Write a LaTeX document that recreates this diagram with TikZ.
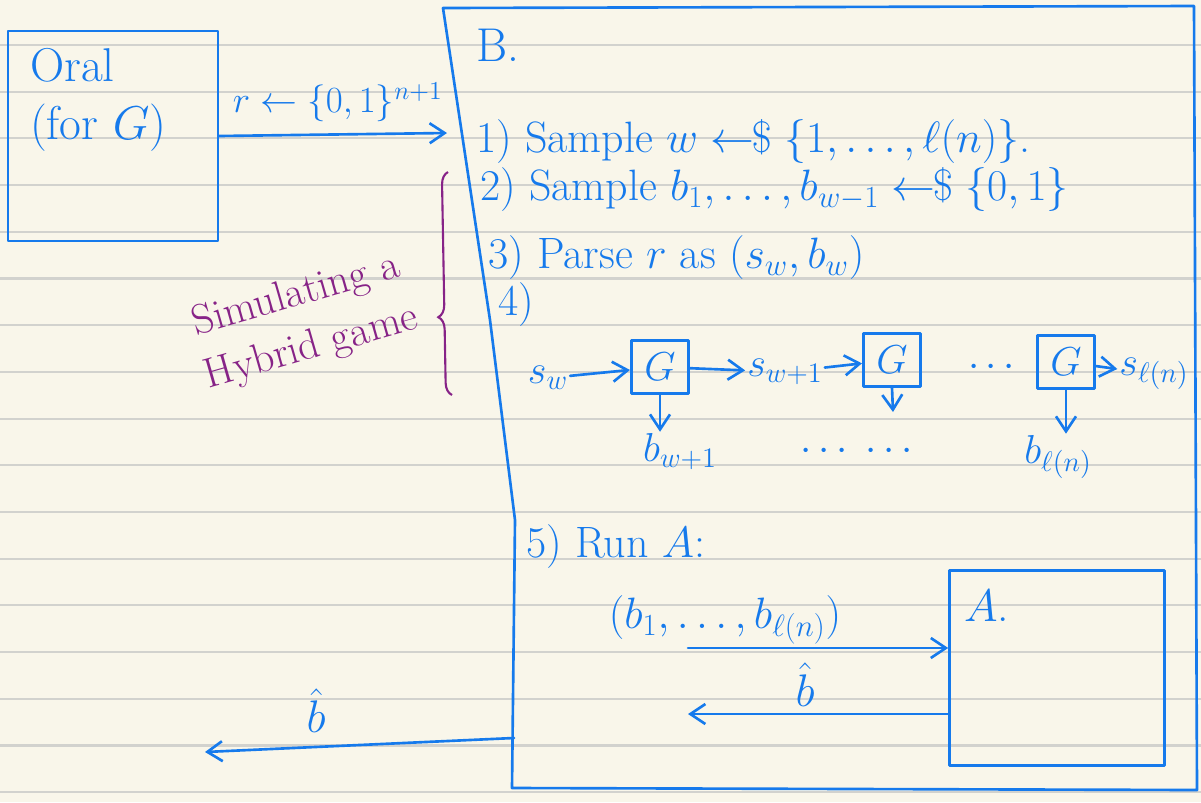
\RequirePackage{fix-cm}
\documentclass[tikz,border=0pt]{standalone}
\usepackage{amsmath}
\usetikzlibrary{arrows.meta,positioning,decorations.pathreplacing,calc}
\definecolor{ink}{RGB}{22,122,236}
\definecolor{plum}{RGB}{135,35,135}
\definecolor{paper}{RGB}{249,246,234}
\definecolor{rule}{RGB}{210,210,206}
\newcommand{\sampto}{\mathrel{\leftarrow\!\!\$}}

\begin{document}
\begin{tikzpicture}[x=0.02cm,y=-0.02cm,
  font=\fontsize{23}{29}\selectfont,
  inkline/.style={draw=ink,line width=1.5pt,line cap=round,line join=round},
  box/.style={inkline,inner sep=0pt},
  gbox/.style={box,text=ink,minimum width=1.15cm,minimum height=1.05cm},
  flow/.style={inkline,-{Straight Barb[length=3mm,width=4mm]}},
  hand/.style={text=ink,inner sep=1pt,anchor=west},
  stepline/.style={hand,font=\fontsize{25}{30}\selectfont},
  ruling/.style={draw=rule,line width=1.2pt}]
\fill[paper] (0,0) rectangle (1201,802);
\useasboundingbox (0,0) rectangle (1201,802);
\foreach \k in {0,...,16}
  \draw[ruling] (0,{45+46.7*\k}) -- (1201,{45+46.7*\k});

\node[box,minimum width=4.2cm,minimum height=4.2cm] (oracle) at (113,136) {};
\node[hand,anchor=north west,align=left,font=\fontsize{27}{33}\selectfont] (oraclename) at (28,46) {Oral\\(for $G$)};
\coordinate (rin) at (447,133);
\draw[flow] (oracle.east) -- (rin) node[pos=0.52,above=3pt,text=ink,font=\fontsize{21}{25}\selectfont] (rlabel) {$r\leftarrow\{0,1\}^{n+1}$};

\coordinate (btl) at (443,8);
\coordinate (btr) at (1194,6);
\coordinate (bbr) at (1197,790);
\coordinate (bbl) at (512,788);
\draw[inkline] (btl) -- (btr) -- (bbr) -- (bbl) -- (515,520) -- (490,320) -- cycle;
\node[hand,font=\fontsize{27}{32}\selectfont] (bname) at (474,45) {B.};

\node[stepline] (step1) at (474,142) {1) Sample $w\sampto\{1,\dots,\ell(n)\}$.};
\node[stepline] (step2) at (478,190) {2) Sample $b_1,\dots,b_{w-1}\sampto\{0,1\}$};
\node[stepline] (step3) at (486,258) {3) Parse $r$ as $(s_w,b_w)$};
\node[stepline] (step4) at (496,305) {4)};

\node[hand,anchor=center] (sw) at (548,378) {$s_w$};
\node[gbox] (g1) at (660,367) {$G$};
\node[hand,anchor=center] (sw1) at (785,372) {$s_{w+1}$};
\node[gbox] (g2) at (892,360) {$G$};
\node[text=ink] (gdots) at (995,368) {$\cdots$};
\node[gbox] (g3) at (1066,362) {$G$};
\node[hand,anchor=center] (sl) at (1154,374) {$s_{\ell(n)}$};
\draw[flow] (sw) -- (g1);
\draw[flow] (g1) -- (sw1);
\draw[flow] (sw1) -- (g2);
\draw[flow] (g3) -- (sl);

\node[hand,anchor=center] (bw1) at (680,452) {$b_{w+1}$};
\node[text=ink] (bdots) at (860,452) {$\cdots\;\cdots$};
\node[hand,anchor=center] (bl) at (1058,457) {$b_{\ell(n)}$};
\coordinate (g2out) at (893,412);
\draw[flow] (g1.south) -- (g1.south |- bw1.north);
\draw[flow] (g2.south) -- (g2out);
\draw[flow] (g3.south) -- (g3.south |- bl.north);

\node[stepline] (step5) at (524,547) {5) Run $A$:};
\node[box,minimum width=4.3cm,minimum height=3.9cm] (abox) at (1057,668) {};
\node[hand,font=\fontsize{26}{30}\selectfont] (aname) at (962,606) {$A$.};
\coordinate (toa) at (688,648);
\coordinate (froma) at (688,714);
\node[text=ink,font=\fontsize{25}{30}\selectfont] (blist) at (725,620) {$(b_1,\dots,b_{\ell(n)})$};
\draw[flow] (toa) -- (toa -| abox.west);
\draw[flow] (froma -| abox.west) -- (froma) node[pos=0.55,above,text=ink,font=\fontsize{26}{30}\selectfont] (bhatin) {$\hat b$};

\coordinate (bout) at (514,738);
\coordinate (bhatend) at (205,752);
\draw[flow] (bout) -- (bhatend) node[pos=0.64,above=4pt,text=ink,font=\fontsize{26}{30}\selectfont] (bhatout) {$\hat b$};

\node[text=plum,rotate=16,align=center,font=\fontsize{24}{31}\selectfont] (hybridnote) at (304,322) {Simulating a\\Hybrid game};
\coordinate (bracetop) at (448,172);
\coordinate (bracebot) at (452,395);
\draw[plum,line width=1.2pt,decorate,decoration={brace,amplitude=7pt,aspect=0.35}] (bracebot) -- (bracetop);
\end{tikzpicture}
\end{document}
